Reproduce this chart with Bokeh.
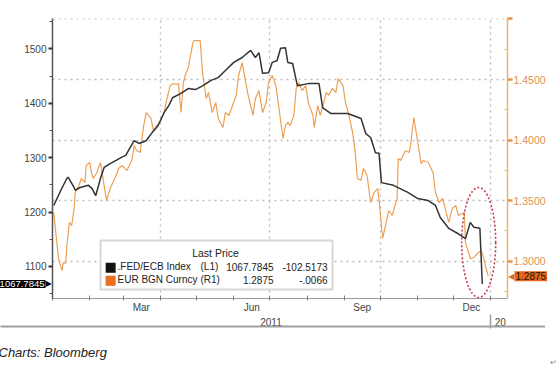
import pandas as pd
from bokeh.plotting import figure
from bokeh.models import (Range1d, LinearAxis, FixedTicker, NumeralTickFormatter,
                          Label, BoxAnnotation)
from bokeh.embed import file_html
from bokeh.resources import INLINE

# ---------------- data ----------------
BASE_DATE = "2011-01-01"
fed_day = [1, 7, 12, 13, 17, 19, 23, 30, 33, 36, 40, 43, 48, 53, 57, 61, 68, 72, 78, 83,
           88, 93, 97, 100, 107, 113, 119, 125, 132, 138, 144, 151, 158, 165, 169, 172, 175, 180, 183, 187,
           190, 194, 196, 200, 204, 213, 222, 225, 232, 246, 257, 261, 265, 269, 272, 274, 284, 296, 304, 313,
           319, 323, 330, 338, 344, 348, 351, 356, 358]
fed_val = [1212, 1240, 1262, 1264, 1249, 1240, 1245, 1249, 1243, 1230, 1262, 1282, 1289, 1295, 1300, 1304, 1331, 1326, 1331, 1346,
           1359, 1383, 1396, 1410, 1418, 1427, 1425, 1432, 1442, 1447, 1460, 1475, 1484, 1497, 1484, 1493, 1455, 1456, 1475, 1478,
           1501, 1502, 1475, 1473, 1432, 1436, 1436, 1392, 1381, 1381, 1372, 1344, 1337, 1309, 1308, 1254, 1249, 1236, 1225, 1221,
           1212, 1190, 1170, 1160, 1151, 1181, 1172, 1170, 1067.7845]

eur_day = [1, 3, 5, 8, 9, 11, 12, 14, 16, 18, 19, 22, 24, 27, 28, 31, 33, 34, 37, 40,
           43, 45, 48, 53, 55, 58, 62, 66, 68, 70, 73, 76, 78, 82, 84, 87, 90, 93, 95, 98,
           101, 103, 105, 107, 109, 111, 113, 117, 118, 123, 125, 128, 130, 133, 136, 138, 142, 144, 147, 150,
           153, 155, 158, 161, 163, 167, 169, 172, 175, 178, 180, 183, 186, 188, 192, 194, 196, 198, 201, 203,
           205, 208, 211, 213, 217, 218, 221, 223, 226, 228, 230, 233, 236, 238, 242, 244, 247, 250, 252, 254,
           257, 259, 262, 265, 268, 271, 273, 275, 278, 280, 283, 286, 287, 288, 290, 294, 297, 298, 301, 304,
           307, 309, 313, 317, 319, 322, 325, 328, 330, 333, 336, 338, 343, 344, 348, 351, 354, 357, 359, 361,
           363]
eur_val = [1.3401, 1.3211, 1.3021, 1.2922, 1.2988, 1.2980, 1.3129, 1.3319, 1.3294, 1.3434,
           1.3567, 1.3624, 1.3682, 1.3649, 1.3790, 1.3814, 1.3707, 1.3682, 1.3732, 1.3814,
           1.3624, 1.3501, 1.3600, 1.3707, 1.3765, 1.3790, 1.3748, 1.3831, 1.3955, 1.3914,
           1.3897, 1.4120, 1.4227, 1.4178, 1.4079, 1.4120, 1.4161, 1.4227, 1.4327, 1.4450,
           1.4467, 1.4459, 1.4467, 1.4227, 1.4475, 1.4550, 1.4591, 1.4806, 1.4822, 1.4822,
           1.4558, 1.4343, 1.4393, 1.4227, 1.4310, 1.4178, 1.4104, 1.4227, 1.4203, 1.4285,
           1.4368, 1.4533, 1.4640, 1.4475, 1.4368, 1.4203, 1.4343, 1.4409, 1.4227, 1.4310,
           1.4475, 1.4533, 1.4450, 1.4310, 1.4013, 1.4120, 1.4145, 1.4120, 1.4203, 1.4426,
           1.4475, 1.4409, 1.4450, 1.4310, 1.4203, 1.4104, 1.4285, 1.4203, 1.4310, 1.4393,
           1.4368, 1.4426, 1.4393, 1.4508, 1.4450, 1.4310, 1.4203, 1.4062, 1.3914, 1.3682,
           1.3666, 1.3765, 1.3707, 1.3484, 1.3567, 1.3600, 1.3401, 1.3187, 1.3319, 1.3418,
           1.3377, 1.3484, 1.3501, 1.3847, 1.3831, 1.3914, 1.3897, 1.3938, 1.4186, 1.3996,
           1.3806, 1.3831, 1.3814, 1.3732, 1.3567, 1.3484, 1.3517, 1.3401, 1.3319, 1.3434,
           1.3459, 1.3377, 1.3401, 1.3154, 1.3021, 1.3030, 1.3063, 1.3088, 1.3030, 1.2947,
           1.2875]

fed_name = ".FED/ECB Index"
eur_name = "EUR BGN Curncy"
fed_last, fed_chg = "1067.7845", "-102.5173"
eur_last, eur_chg = "1.2875", "-.0066"
fed_last_val = 1067.7845
eur_last_val = 1.2875

left_ticks = [1100, 1200, 1300, 1400, 1500]
left_minor = [1050, 1150, 1250, 1350, 1450, 1550]
right_ticks = [1.30, 1.35, 1.40, 1.45, 1.50]
right_minor = [1.275, 1.325, 1.375, 1.425, 1.475]
month_label_dates = ["2011-03-16", "2011-06-16", "2011-09-16", "2011-12-16"]
month_labels = ["Mar", "Jun", "Sep", "Dec"]
month_starts = ["2011-%02d-01" % m for m in range(1, 13)] + ["2012-01-01"]
quarter_starts = ["2011-04-01", "2011-07-01", "2011-10-01", "2012-01-01"]
year_label_dates = ["2011-07-02", "2012-01-09"]
year_labels = ["2011", "20"]
year_break = "2012-01-01"
HIGHLIGHT_DATE = "2011-12-22"
HIGHLIGHT_LEVEL = 1144

X_START, X_END = "2011-01-01", "2012-01-15"
L_MIN, L_MAX = 1041, 1555.7
R_MIN, R_MAX = 1.2691, 1.5004


def ms(d):
    return int(pd.Timestamp(d).value // 10**6)


base = pd.Timestamp(BASE_DATE)
fed_dates = base + pd.to_timedelta(fed_day, unit="D")
eur_dates = base + pd.to_timedelta(eur_day, unit="D")

FONT = "Liberation Sans"
W, H = 560, 367
ML, MR, MT, MB = 52, 53, 18, 69

p = figure(width=W, height=H, x_axis_type="datetime", output_backend="svg",
           toolbar_location=None,
           x_range=Range1d(ms(X_START), ms(X_END)),
           y_range=Range1d(L_MIN, L_MAX),
           min_border_left=ML, min_border_right=MR, min_border_top=MT, min_border_bottom=MB)
p.outline_line_color = None
p.background_fill_color = "white"
p.border_fill_color = "white"
p.extra_y_ranges = {"eur": Range1d(R_MIN, R_MAX)}

# page-pixel helpers for decorative annotations
FW, FH = W - ML - MR, H - MT - MB


def xd(px):
    return ms(X_START) + (px - ML) * (ms(X_END) - ms(X_START)) / FW


def yd(py):
    return L_MAX - (py - MT) * (L_MAX - L_MIN) / FH


# grids
p.xgrid.ticker = FixedTicker(ticks=[ms(d) for d in quarter_starts])
p.ygrid.ticker = FixedTicker(ticks=right_ticks)
p.ygrid.y_range_name = "eur"
for g in (p.xgrid, p.ygrid):
    g.grid_line_color = "#bcbcbc"
    g.grid_line_dash = "2 4"
    g.grid_line_width = 1.4

# lines
p.line(eur_dates, eur_val, y_range_name="eur", line_color="#eda055", line_width=1.2)
p.line(fed_dates, fed_val, line_color="#333333", line_width=1.5)

# highlight ellipse
p.ellipse(x=[ms(HIGHLIGHT_DATE)], y=[HIGHLIGHT_LEVEL], width=34, height=110,
          width_units="screen", height_units="screen", fill_color=None,
          line_color="#c4404a", line_dash="2 2", line_width=1.6)

# x axis (months)
xa = p.xaxis[0]
xa.ticker = FixedTicker(ticks=[ms(d) for d in month_label_dates],
                        minor_ticks=[ms(d) for d in month_starts])
xa.major_label_overrides = {ms(d): t for d, t in zip(month_label_dates, month_labels)}
xa.major_tick_in = 0
xa.major_tick_out = 0
xa.minor_tick_in = 3
xa.minor_tick_out = 2
xa.minor_tick_line_color = "#808080"
xa.axis_line_color = "#9a9a9a"
xa.major_label_standoff = 1
xa.major_label_text_font = FONT
xa.major_label_text_font_size = "10px"
xa.major_label_text_color = "#444444"

# x axis (years)
yr = LinearAxis(ticker=FixedTicker(ticks=[ms(d) for d in year_label_dates]))
yr.major_label_overrides = {ms(d): t for d, t in zip(year_label_dates, year_labels)}
yr.axis_line_color = None
yr.major_tick_in = 0
yr.major_tick_out = 0
yr.minor_tick_in = 0
yr.minor_tick_out = 0
yr.major_label_standoff = 2
yr.major_label_text_font = FONT
yr.major_label_text_font_size = "10px"
yr.major_label_text_color = "#444444"
p.add_layout(yr, "below")

# year divider (tick pointing up from below the year labels)
dv = LinearAxis(ticker=FixedTicker(ticks=[ms(year_break)]))
dv.major_label_overrides = {ms(year_break): ""}
dv.axis_line_color = None
dv.major_tick_in = 14
dv.major_tick_out = 0
dv.minor_tick_in = 0
dv.minor_tick_out = 0
dv.major_tick_line_color = "#9a9a9a"
dv.major_tick_line_width = 1.5
dv.major_label_standoff = 0
dv.major_label_text_font_size = "0px"
p.add_layout(dv, "below")

# left axis
ya = p.yaxis[0]
ya.ticker = FixedTicker(ticks=left_ticks, minor_ticks=left_minor)
ya.major_tick_in = 0
ya.major_tick_out = 4
ya.major_tick_line_width = 2
ya.major_tick_line_color = "#333333"
ya.minor_tick_in = 0
ya.minor_tick_out = 3
ya.minor_tick_line_color = "#555555"
ya.axis_line_color = "#555555"
ya.axis_line_width = 1.5
ya.major_label_standoff = 2
ya.major_label_text_font = FONT
ya.major_label_text_font_size = "10px"
ya.major_label_text_color = "#444444"

# right axis
ra = LinearAxis(y_range_name="eur",
                ticker=FixedTicker(ticks=right_ticks, minor_ticks=right_minor),
                formatter=NumeralTickFormatter(format="0.0000"))
ra.major_label_overrides = {1.5: ""}
ra.major_tick_in = 0
ra.major_tick_out = 5
ra.major_tick_line_width = 2.5
ra.major_tick_line_color = "#e8944a"
ra.minor_tick_in = 3
ra.minor_tick_out = 0
ra.minor_tick_line_color = "#f0b070"
ra.axis_line_color = "#f0b070"
ra.axis_line_width = 1.5
ra.major_label_standoff = 1
ra.major_label_text_font = FONT
ra.major_label_text_font_size = "10.5px"
ra.major_label_text_color = "#d9944f"
p.add_layout(ra, "right")

# ---- annotations outside the frame (side panels are not clipped) ----
# caption and bottom rule (top panel has room for them)
p.add_layout(Label(x=xd(-2), y=yd(352), text="Charts: Bloomberg", text_font=FONT,
                   text_font_style="italic", text_font_size="13px", text_color="#222222",
                   text_align="left", text_baseline="middle"), "above")
p.add_layout(Label(x=xd(0), y=yd(326), text=" " * 980, text_font=FONT, text_font_size="2px",
                   text_align="left", text_baseline="middle",
                   background_fill_color="#a0a0a0"), "above")
# last-price tags
p.add_layout(Label(x=xd(45), y=fed_last_val, text=fed_last,
                   text_font=FONT, text_font_size="9.5px", text_color="white",
                   text_align="right", text_baseline="middle",
                   background_fill_color="black", padding=1), "below")
p.add_layout(Label(x=xd(514), y=eur_last_val, y_range_name="eur", text=eur_last,
                   text_font=FONT, text_font_size="10px", text_color="#2a1200",
                   text_align="left", text_baseline="middle",
                   background_fill_color="#e2651e", padding=1), "below")
p.add_layout(Label(x=xd(45), y=fed_last_val, text="▶",
                   text_font="DejaVu Sans", text_font_size="8px", text_color="black",
                   text_align="left", text_baseline="middle"), "left")
p.add_layout(Label(x=xd(514), y=eur_last_val, y_range_name="eur", text="◀",
                   text_font="DejaVu Sans", text_font_size="8px", text_color="#e2651e",
                   text_align="right", text_baseline="middle"), "right")
p.add_layout(Label(x=xd(553), y=yd(362), text="↵", text_font="DejaVu Sans",
                   text_font_size="8px", text_color="#888888", text_align="center",
                   text_baseline="middle"), "left")

# legend box (inside the frame)
LX, LY = 100, 240
p.add_layout(BoxAnnotation(left=xd(LX), right=xd(332), top=yd(LY), bottom=yd(289),
                           fill_color="white", fill_alpha=1, line_color="#7a7a7a", line_width=2))


def lab(dx, dy, text, align="left", color="#222222", size="10px", font=FONT):
    p.add_layout(Label(x=xd(LX + dx), y=yd(LY + dy), text=text, text_font=font,
                       text_font_size=size, text_color=color, text_align=align,
                       text_baseline="middle"))


lab(115, 12.5, "Last Price", align="center", size="10.5px")
for dy, col, nm, tag, last, chg in [(26, "#111111", fed_name, "(L1)", fed_last, fed_chg),
                                    (39, "#e8701e", eur_name, "(R1)", eur_last, eur_chg)]:
    lab(4, dy, "■", color=col, size="13px", font="DejaVu Sans")
    lab(17, dy, nm)
    lab(100, dy, tag)
    lab(173, dy, last, align="right")
    lab(227, dy, chg, align="right")

open("out.html", "w").write(file_html(p, INLINE))
